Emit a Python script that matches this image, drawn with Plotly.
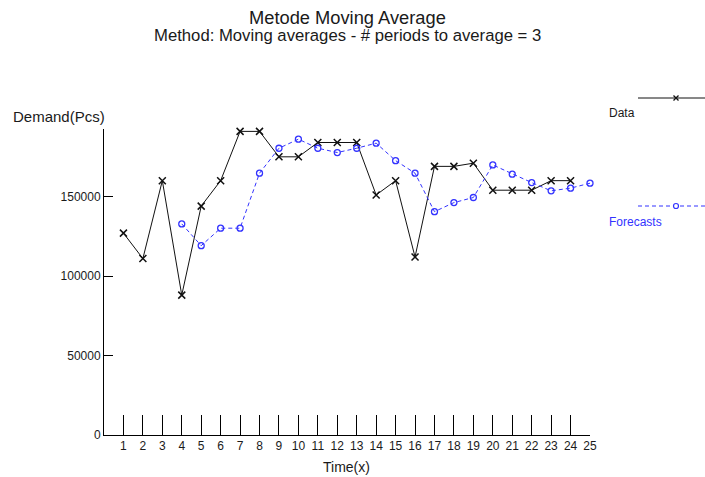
import plotly.graph_objects as go

# ---- data ----
periods = list(range(1, 25))
demand = [127000, 111000, 160000, 88000, 144000, 160000, 191000, 191000,
          175000, 175000, 184000, 184000, 184000, 151000, 160000, 112000,
          169000, 169000, 171000, 154000, 154000, 154000, 160000, 160000]

forecast_periods = list(range(4, 26))
forecasts = [132800, 119100, 130100, 130100, 164700, 180400, 186100, 180400,
             177700, 180400, 183600, 172600, 164700, 140500, 146200, 149400,
             169900, 164100, 158800, 153600, 155300, 158400]

x_ticks = list(range(1, 26))
y_ticks = [0, 50000, 100000, 150000]

FONT = "Liberation Sans, Arial, sans-serif"
TXT = "#1a1a1a"
BLUE = "#3333ff"

fig = go.Figure()

fig.add_trace(go.Scatter(
    x=periods, y=demand, mode="lines+markers", name="Data",
    line=dict(color="#111111", width=1),
    marker=dict(symbol="x-thin", size=7, line=dict(color="#111111", width=1.5)),
    showlegend=False, cliponaxis=False))

fig.add_trace(go.Scatter(
    x=forecast_periods, y=forecasts, mode="lines+markers", name="Forecasts",
    line=dict(color=BLUE, width=1, dash="4px,3px"),
    marker=dict(symbol="circle-open", size=6, color=BLUE, line=dict(color=BLUE, width=1.3)),
    showlegend=False, cliponaxis=False))

fig.update_layout(
    width=705, height=477,
    margin=dict(l=104, r=115, t=129, b=42, autoexpand=False),
    paper_bgcolor="white", plot_bgcolor="white",
    font=dict(family=FONT, size=12, color=TXT),
    xaxis=dict(range=[0, 25], tickvals=x_ticks, ticks="inside", ticklen=20,
               tickcolor="#000", tickwidth=1, showline=True, linecolor="#000",
               linewidth=1, showgrid=False, zeroline=False,
               tickfont=dict(size=12, color=TXT)),
    yaxis=dict(range=[0, 192500], tickvals=y_ticks, ticktext=[str(v) for v in y_ticks],
               ticks="inside", ticklen=9, tickcolor="#000", tickwidth=1,
               showline=True, linecolor="#000", linewidth=1, showgrid=False,
               zeroline=False, ticklabelstandoff=0, tickfont=dict(size=12, color=TXT)),
)

ann = [
    dict(text="Metode Moving Average", x=0.5, y=(435 - 17.5) / 306, font=dict(size=18.3)),
    dict(text="Method: Moving averages - # periods to average = 3", x=0.5,
         y=(435 - 35.5) / 306, font=dict(size=16.7)),
    dict(text="Demand(Pcs)", x=(107 - 104) / 486, y=(435 - 117) / 306, xanchor="right",
         font=dict(size=15)),
    dict(text="Time(x)", x=0.498, y=(435 - 467) / 306, font=dict(size=14)),
    dict(text="Data", x=(607 - 104) / 486, y=(435 - 113) / 306, xanchor="left",
         font=dict(size=12, color=TXT)),
    dict(text="Forecasts", x=(607 - 104) / 486, y=(435 - 222) / 306, xanchor="left",
         font=dict(size=12, color=BLUE)),
]
for a in ann:
    a.setdefault("xanchor", "center")
    fig.add_annotation(xref="paper", yref="paper", showarrow=False, yanchor="middle", **a)

# custom legend samples
lx0, lx1, lm = (638 - 104) / 486, (705 - 104) / 486, (676 - 104) / 486
ly_d, ly_f = (435 - 98) / 306, (435 - 206) / 306
fig.add_shape(type="line", xref="paper", yref="paper", x0=lx0, x1=lx1, y0=ly_d, y1=ly_d,
              line=dict(color="#111111", width=1))
fig.add_shape(type="path", xref="paper", yref="paper", xsizemode="pixel", ysizemode="pixel",
              xanchor=lm, yanchor=ly_d, path="M-2.5,-2.5 L2.5,2.5 M-2.5,2.5 L2.5,-2.5",
              line=dict(color="#111111", width=1.3))
fig.add_shape(type="line", xref="paper", yref="paper", x0=lx0, x1=lx1, y0=ly_f, y1=ly_f,
              line=dict(color=BLUE, width=1, dash="4px,3px"))
fig.add_shape(type="circle", xref="paper", yref="paper", xsizemode="pixel", ysizemode="pixel",
              xanchor=lm, yanchor=ly_f, x0=-2.5, x1=2.5, y0=-2.5, y1=2.5,
              line=dict(color=BLUE, width=1.2), fillcolor="white")

fig.write_html("out.html", config={"displayModeBar": False},
               post_script="document.body.style.margin='0';document.body.style.overflow='hidden';")
